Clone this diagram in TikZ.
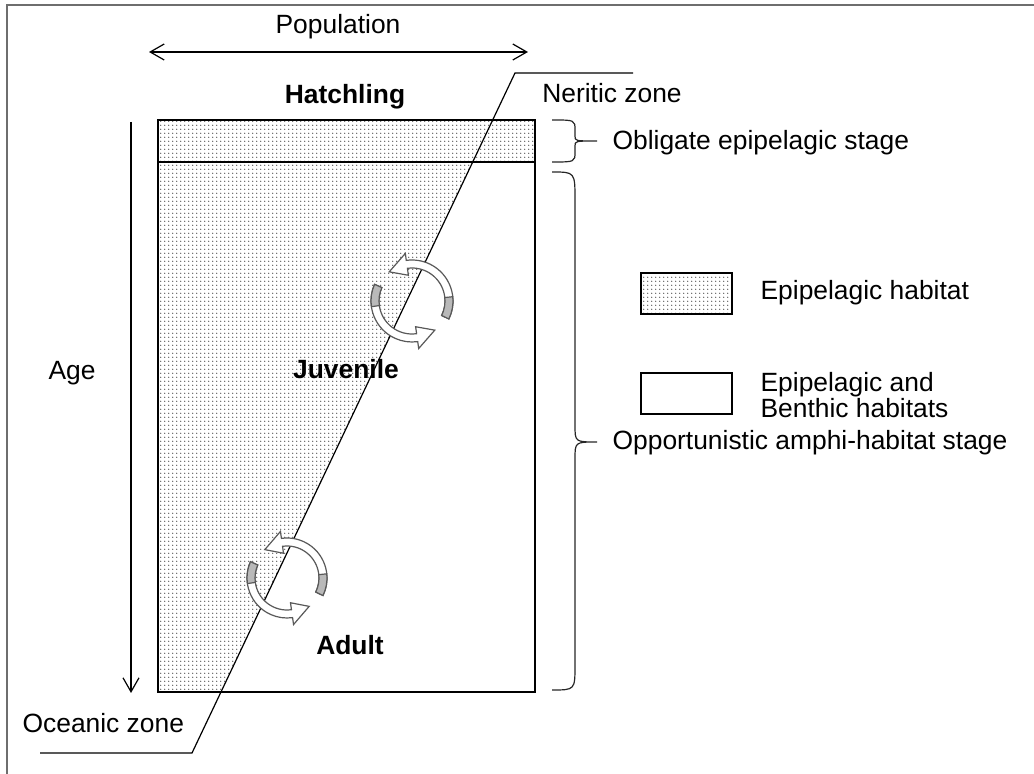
\documentclass[tikz,border=0pt]{standalone}
\usepackage{fontspec}
\setmainfont{Liberation Sans}
\usetikzlibrary{arrows.meta,calc,patterns.meta}
\definecolor{frameGray}{RGB}{110,110,110}
\definecolor{tailGray}{RGB}{185,185,185}
\tikzdeclarepattern{name=stipple,type=uncolored,
  bottom left={(0pt,0pt)},top right={(1.9pt,1.9pt)},
  tile size={(1.9pt,1.9pt)},
  code={\fill (0.9pt,0.9pt) circle[radius=0.35pt];}}
\newcommand{\turnarrow}[4]{%
  \draw[black!65,fill=white,line width=.6pt] ($(#1)+(#2:#4+4)$)
    arc[start angle=#2,end angle=#3+30,radius=#4+4]
    -- ($(#1)+(#3+30:#4+11)$) -- ($(#1)+(#3:#4)$)
    -- ($(#1)+(#3+30:#4-11)$) -- ($(#1)+(#3+30:#4-4)$)
    arc[start angle=#3+30,end angle=#2,radius=#4-4] -- cycle;
  \draw[black!65,fill=tailGray,line width=.6pt] ($(#1)+(#2:#4+4)$)
    arc[start angle=#2,end angle=#2-32,radius=#4+4]
    -- ($(#1)+(#2-32:#4-4)$)
    arc[start angle=#2-32,end angle=#2,radius=#4-4] -- cycle;}

\begin{document}
\begin{tikzpicture}[x=.5pt,y=-.5pt,line width=.6pt,
  >={Straight Barb[length=7pt,width=8pt]}]
\tikzstyle{every node}=[inner sep=0pt,font=\fontsize{13.2}{15}\selectfont]
\tikzstyle{stage label}=[font=\fontsize{13.2}{15}\selectfont\bfseries]
\tikzstyle{legend box}=[draw,minimum width=45.5pt,minimum height=20.5pt]
\useasboundingbox (0,0) rectangle (1034,774);
\draw[frameGray,line width=1pt] (7,774) -- (7,5) -- (1034,5);

\fill[pattern=stipple,pattern color=black!75] (158,120) -- (535,120)
  -- (535,162) -- (472.7,162) -- (221,692) -- (158,692) -- cycle;
\draw (158,120) rectangle (535,692);
\draw (158,162) -- (535,162);
\draw (40,753) -- (192,753) -- (515,73) -- (633,73);

\coordinate (centreJuv) at (412,301);
\coordinate (centreAdu) at (287,578);
\turnarrow{centreJuv}{26}{-128}{37}
\turnarrow{centreJuv}{204}{52}{37}
\turnarrow{centreAdu}{26}{-128}{36}
\turnarrow{centreAdu}{204}{52}{36}

\draw[black!85] (552,120) .. controls (575,120) .. (575,130) -- (575,136)
  .. controls (575,141) .. (597,141) .. controls (575,141) .. (575,146)
  -- (575,152) .. controls (575,162) .. (552,162);
\draw[black!85] (552,172) .. controls (575,172) .. (575,200) -- (575,425)
  .. controls (575,442) .. (597,442) .. controls (575,442) .. (575,459)
  -- (575,665) .. controls (575,690) .. (552,690);

\draw (338,27) node (pop) {Population};
\coordinate (popL) at (149,52);
\coordinate (popR) at (528,52);
\draw[<->] (popL) -- (popR);
\coordinate (ageT) at (131,122);
\coordinate (ageB) at (131,693);
\draw[->] (ageT) -- (ageB);
\draw (72,373) node (age) {Age};

\draw (345,97) node[stage label] (hatch) {Hatchling};
\draw (346,369) node[stage label] (juv) {Juvenile};
\draw (350,645) node[stage label] (adult) {Adult};
\draw (612,93) node (neritic) {Neritic zone};
\draw (22,723) node[anchor=west] (oceanic) {Oceanic zone};

\draw (612,143) node[anchor=west] (oblig) {Obligate epipelagic stage};
\draw (612,443) node[anchor=west] (oppor) {Opportunistic amphi-habitat stage};

\draw (686.5,293.5) node[legend box,pattern=stipple,pattern color=black!75] (legdot) {};
\draw (686.5,393.5) node[legend box] (legwhite) {};
\draw (760,293) node[anchor=west] (epi) {Epipelagic habitat};
\draw (760,395) node[anchor=west,align=left,font=\fontsize{13.2}{12.8}\selectfont] (epiben) {Epipelagic and\\Benthic habitats};
\end{tikzpicture}
\end{document}
